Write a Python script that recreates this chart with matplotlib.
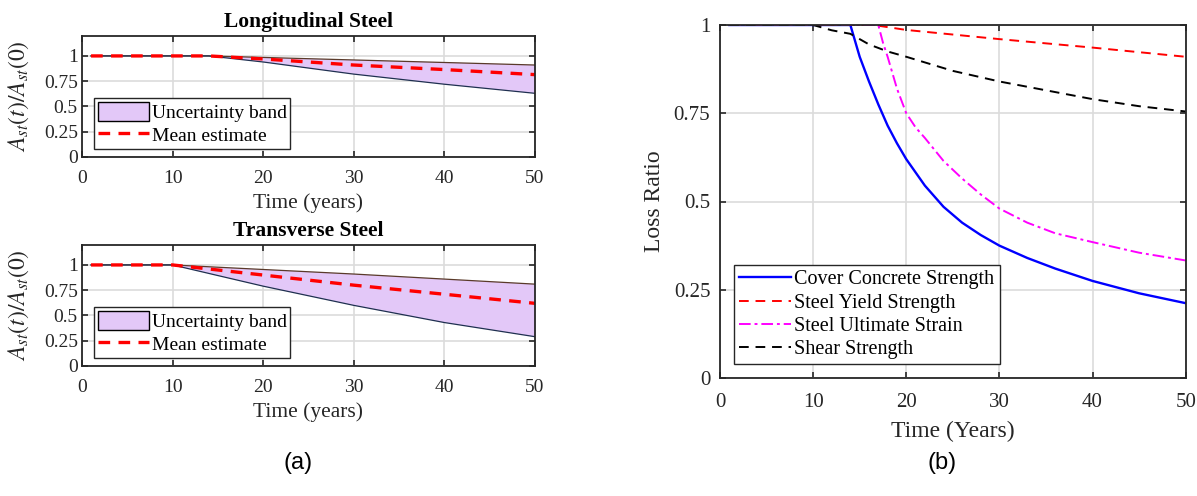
import numpy as np
import matplotlib.pyplot as plt
from matplotlib.patches import Patch

# Longitudinal steel (years, ratio)
long_t = [1, 14, 20, 30, 40, 50]
long_upper = [1, 1, 0.985, 0.96, 0.935, 0.91]
long_lower = [1, 1, 0.94, 0.82, 0.72, 0.63]
long_mean = [1, 1, 0.97, 0.91, 0.865, 0.815]

# Transverse steel
trans_t = [1, 10, 20, 30, 40, 50]
trans_upper = [1, 1, 0.955, 0.91, 0.86, 0.81]
trans_lower = [1, 1, 0.79, 0.60, 0.43, 0.29]
trans_mean = [1, 1, 0.90, 0.80, 0.71, 0.62]

# Loss ratios (b)
cover_t = [1, 14, 15, 16, 17, 18, 19, 20, 22, 24, 26, 28, 30, 33, 36, 40, 45, 50]
cover_v = [1, 1, 0.91, 0.84, 0.775, 0.715, 0.665, 0.62, 0.545, 0.485, 0.44, 0.405, 0.375, 0.34, 0.31, 0.275, 0.24, 0.212]
yield_t = [1, 16.5, 20, 30, 40, 50]
yield_v = [1, 1, 0.986, 0.96, 0.936, 0.91]
ult_t = [1, 17, 17.5, 18, 19, 20, 21, 22, 24, 26, 28, 30, 33, 36, 40, 45, 50]
ult_v = [1, 1, 0.95, 0.91, 0.82, 0.75, 0.71, 0.68, 0.615, 0.565, 0.52, 0.48, 0.44, 0.41, 0.385, 0.355, 0.333]
shear_t = [1, 10, 12, 14, 15, 16, 18, 20, 25, 30, 35, 40, 45, 50]
shear_v = [1, 1, 0.985, 0.975, 0.96, 0.945, 0.925, 0.91, 0.87, 0.84, 0.815, 0.79, 0.77, 0.755]

xticks = [0, 10, 20, 30, 40, 50]
yticks = [0, 0.25, 0.5, 0.75, 1]
ytick_labels = ['0', '0.25', '0.5', '0.75', '1']

plt.rcParams['font.family'] = 'Liberation Serif'
plt.rcParams['mathtext.fontset'] = 'stix'

fig = plt.figure(figsize=(11.97, 4.96), dpi=100)
TXT = '#262626'
BAND = '#e3c8f8'

def style(ax, fs, xpad):
	ax.grid(True, color='#dcdcdc', linewidth=1.2)
	ax.set_axisbelow(True)
	ax.tick_params(direction='in', top=True, right=True, labelsize=fs, colors=TXT, length=4, width=1.2, pad=3)
	ax.tick_params(axis='x', pad=xpad)
	for s in ax.spines.values():
		s.set_linewidth(1.3)
		s.set_color(TXT)

def band_plot(ax, t, up, lo, mean, title):
	ax.fill_between(t, lo, up, facecolor=BAND, edgecolor='none')
	ax.plot(t, up, color='#5a3a2a', linewidth=0.9)
	ax.plot(t, lo, color='#1f3050', linewidth=0.9)
	ax.plot(t, mean, 'r--', linewidth=2.4, dashes=(3.5, 2.5))
	ax.set_xlim(0, 50)
	ax.set_ylim(0, 1.2)
	ax.set_xticks(xticks)
	ax.set_yticks(yticks)
	ax.set_yticklabels(ytick_labels)
	style(ax, 14, 9.5)
	ax.set_title(title, fontweight='bold', fontsize=15.5, pad=6.5)
	ax.set_xlabel('Time (years)', fontsize=15.5, labelpad=4.5, color=TXT)
	ax.set_ylabel(r'$A_{st}(t)/A_{st}(0)$', fontsize=17, labelpad=9, color=TXT)
	h = [Patch(facecolor=BAND, edgecolor='black', linewidth=1),
		plt.Line2D([], [], color='red', linestyle='--', linewidth=2.4, dashes=(3.5, 2.5))]
	leg = ax.legend(h, ['Uncertainty band', 'Mean estimate'], loc='lower left',
		bbox_to_anchor=(0.027, 0.066), fontsize=14, fancybox=False, edgecolor=TXT,
		framealpha=1, borderpad=0.2, handlelength=2.6, handleheight=1.1,
		handletextpad=0.15, labelspacing=0.15, borderaxespad=0)
	leg.get_frame().set_linewidth(1)

ax1 = fig.add_axes([0.0685, 0.6835, 0.3784, 0.2445])
band_plot(ax1, long_t, long_upper, long_lower, long_mean, 'Longitudinal Steel')
ax2 = fig.add_axes([0.0685, 0.2621, 0.3784, 0.2445])
band_plot(ax2, trans_t, trans_upper, trans_lower, trans_mean, 'Transverse Steel')

ax3 = fig.add_axes([0.6015, 0.2379, 0.389, 0.7117])
ax3.plot(cover_t, cover_v, color='blue', linewidth=1.7, label='Cover Concrete Strength')
ax3.plot(yield_t, yield_v, color='red', linestyle=(0, (5, 3.5)), linewidth=1.4, label='Steel Yield Strength')
ax3.plot(ult_t, ult_v, color='magenta', linestyle=(0, (6, 2, 1.5, 2)), linewidth=1.4, label='Steel Ultimate Strain')
ax3.plot(shear_t, shear_v, color='black', linestyle=(0, (5, 3.5)), linewidth=1.4, label='Shear Strength')
ax3.set_xlim(0, 50)
ax3.set_ylim(0, 1)
ax3.set_xticks(xticks)
ax3.set_yticks(yticks)
ax3.set_yticklabels(ytick_labels)
style(ax3, 15, 11)
ax3.tick_params(axis='y', pad=7)
ax3.set_xlabel('Time (Years)', fontsize=17, color=TXT, labelpad=6)
ax3.set_ylabel('Loss Ratio', fontsize=17, color=TXT, labelpad=6)
leg = ax3.legend(loc='lower left', bbox_to_anchor=(0.03, 0.04), fontsize=14.5,
	fancybox=False, edgecolor=TXT, framealpha=1, borderpad=0.25,
	handlelength=2.6, handletextpad=0.15, labelspacing=0.2, borderaxespad=0)
leg.get_frame().set_linewidth(1)

fig.text(298 / 1197, 1 - 463 / 496, '(a)', fontsize=17, family='Liberation Sans', ha='center', va='center')
fig.text(942 / 1197, 1 - 463 / 496, '(b)', fontsize=17, family='Liberation Sans', ha='center', va='center')

fig.savefig('out.png', dpi=100)
